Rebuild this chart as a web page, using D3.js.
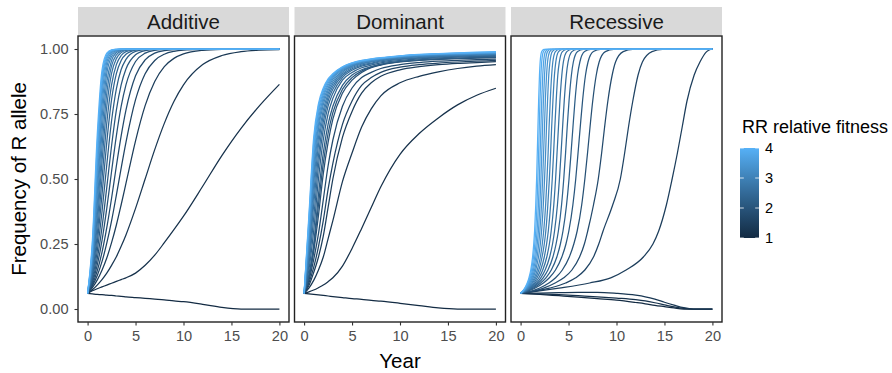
<!DOCTYPE html>
<html>
<head>
<meta charset="utf-8">
<script src="https://cdn.jsdelivr.net/npm/d3@7"></script>
<style>
body { margin: 0; background: #fff; }
svg { display: block; font-family: "Liberation Sans", Arial, sans-serif; }
</style>
</head>
<body>
<svg width="892" height="373"></svg>
<script>
// RR relative fitness of each simulated line (1 to 4)
const fitness = [1, 1.15, 1.3, 1.45, 1.6, 1.75, 1.9, 2.05, 2.2, 2.35, 2.5,
    2.65, 2.8, 2.95, 3.1, 3.25, 3.4, 3.55, 3.7, 3.85, 4];
const panels = ['Additive', 'Dominant', 'Recessive'];
const xTicks = [0, 5, 10, 15, 20];
const yTicks = [0, 0.25, 0.5, 0.75, 1];
const legendTicks = [1, 2, 3, 4];

// Additive: frequency of R at these years, one row per fitness
const addYears = [0, 0.5, 1, 1.5, 2, 2.5, 3, 3.5, 4, 5, 6, 7, 8, 9, 10, 12, 14, 16, 18, 20];
const additive = [
    [.06, .058, .056, .055, .053, .052, .05, .049, .047, .044, .041, .038, .035, .031, .028, .018, .006, 0, 0, 0],
    [.06, .07, .078, .085, .092, .099, .106, .113, .12, .138, .168, .207, .255, .305, .357, .472, .59, .695, .785, .864],
    [.06, .074, .092, .113, .138, .168, .201, .241, .285, .387, .5, .613, .714, .798, .862, .94, .975, .99, .996, .998],
    [.06, .082, .111, .149, .196, .255, .323, .401, .483, .647, .782, .875, .932, .964, .981, .995, .999, 1, 1, 1],
    [.06, .089, .128, .182, .253, .339, .438, .542, .641, .805, .905, .956, .98, .991, .996, .999, 1, 1, 1, 1],
    [.06, .094, .146, .218, .313, .426, .55, .666, .765, .897, .958, .984, .994, .998, .999, 1, 1, 1, 1, 1],
    [.06, .102, .168, .263, .387, .529, .666, .779, .862, .952, .984, .995, .998, 1, 1, 1, 1, 1, 1, 1],
    [.06, .109, .192, .313, .468, .628, .765, .862, .923, .978, .994, .998, 1, 1, 1, 1, 1, 1, 1, 1],
    [.06, .118, .221, .373, .555, .724, .847, .921, .96, .991, .998, 1, 1, 1, 1, 1, 1, 1, 1, 1],
    [.06, .128, .253, .438, .641, .805, .905, .956, .98, .996, 1, 1, 1, 1, 1, 1, 1, 1, 1, 1],
    [.06, .138, .285, .5, .715, .862, .94, .975, .99, .998, 1, 1, 1, 1, 1, 1, 1, 1, 1, 1],
    [.06, .148, .323, .565, .779, .906, .963, .986, .995, .999, 1, 1, 1, 1, 1, 1, 1, 1, 1, 1],
    [.06, .159, .358, .622, .829, .935, .977, .992, .997, 1, 1, 1, 1, 1, 1, 1, 1, 1, 1, 1],
    [.06, .17, .397, .678, .871, .956, .986, .995, .999, 1, 1, 1, 1, 1, 1, 1, 1, 1, 1, 1],
    [.06, .182, .438, .731, .905, .971, .991, .997, .999, 1, 1, 1, 1, 1, 1, 1, 1, 1, 1, 1],
    [.06, .195, .48, .778, .93, .98, .995, .999, 1, 1, 1, 1, 1, 1, 1, 1, 1, 1, 1, 1],
    [.06, .209, .521, .818, .949, .987, .997, .999, 1, 1, 1, 1, 1, 1, 1, 1, 1, 1, 1, 1],
    [.06, .222, .56, .85, .962, .991, .998, 1, 1, 1, 1, 1, 1, 1, 1, 1, 1, 1, 1, 1],
    [.06, .233, .593, .874, .971, .994, .999, 1, 1, 1, 1, 1, 1, 1, 1, 1, 1, 1, 1, 1],
    [.06, .247, .627, .896, .978, .996, .999, 1, 1, 1, 1, 1, 1, 1, 1, 1, 1, 1, 1, 1],
    [.06, .263, .666, .918, .984, .997, .999, 1, 1, 1, 1, 1, 1, 1, 1, 1, 1, 1, 1, 1]
];

// Dominant
const domYears = [0, 0.5, 1, 1.5, 2, 2.5, 3, 4, 5, 6, 7, 8, 10, 12, 14, 16, 18, 20];
const dominant = [
    [.06, .058, .056, .054, .052, .05, .048, .044, .04, .037, .033, .03, .022, .013, .004, 0, 0, 0],
    [.06, .066, .073, .082, .092, .105, .12, .165, .233, .31, .39, .47, .595, .675, .735, .785, .822, .849],
    [.06, .08, .11, .15, .2, .27, .34, .49, .6, .7, .77, .82, .87, .895, .912, .925, .934, .94],
    [.06, .09, .14, .2, .28, .39, .5, .66, .76, .83, .87, .895, .92, .932, .94, .945, .948, .951],
    [.06, .1, .16, .24, .34, .46, .56, .71, .8, .86, .89, .91, .93, .94, .946, .95, .953, .956],
    [.06, .11, .19, .29, .42, .55, .65, .78, .85, .89, .91, .925, .94, .948, .953, .956, .959, .961],
    [.06, .12, .22, .36, .52, .64, .73, .83, .88, .91, .928, .938, .95, .956, .96, .963, .965, .967],
    [.06, .125, .235, .4, .56, .675, .755, .845, .89, .915, .93, .94, .951, .957, .961, .964, .967, .969],
    [.06, .13, .25, .44, .6, .71, .78, .86, .9, .92, .932, .942, .952, .958, .962, .965, .968, .97],
    [.06, .15, .3, .5, .65, .75, .81, .88, .91, .928, .938, .947, .956, .962, .966, .969, .971, .973],
    [.06, .17, .35, .55, .69, .78, .83, .89, .918, .934, .943, .951, .96, .965, .969, .972, .974, .975],
    [.06, .19, .4, .59, .72, .8, .845, .898, .924, .938, .946, .954, .962, .967, .971, .974, .976, .977],
    [.06, .21, .44, .63, .745, .815, .857, .905, .929, .942, .95, .957, .965, .97, .973, .976, .978, .979],
    [.06, .23, .48, .66, .765, .828, .867, .911, .933, .945, .952, .959, .967, .972, .975, .977, .979, .98],
    [.06, .25, .51, .69, .785, .84, .876, .916, .936, .948, .955, .961, .968, .973, .976, .978, .98, .982],
    [.06, .27, .54, .71, .8, .85, .884, .92, .939, .95, .956, .962, .97, .975, .978, .98, .982, .983],
    [.06, .29, .57, .73, .813, .86, .891, .924, .941, .952, .958, .963, .971, .976, .979, .981, .983, .984],
    [.06, .31, .6, .75, .825, .868, .896, .927, .943, .953, .959, .964, .972, .977, .98, .982, .984, .986],
    [.06, .33, .62, .765, .835, .875, .9, .929, .945, .954, .96, .965, .973, .978, .981, .983, .985, .987],
    [.06, .345, .64, .78, .843, .88, .903, .931, .946, .955, .961, .966, .973, .978, .982, .984, .986, .988],
    [.06, .36, .66, .79, .85, .885, .905, .932, .947, .956, .962, .967, .974, .979, .982, .985, .988, .99]
];

// Recessive, the three lowest fitness lines that die out
const recDeclineYears = [0, 2, 4, 6, 8, 10, 12, 13, 14, 15, 16, 17, 18, 20];
const recDecline = [
    [.06, .056, .051, .046, .04, .034, .025, .02, .014, .009, .004, 0, 0, 0],
    [.06, .058, .055, .051, .047, .042, .036, .031, .024, .016, .008, .002, 0, 0],
    [.06, .061, .063, .064, .064, .06, .053, .047, .038, .026, .015, .005, 0, 0]
];
// Recessive, the rising lines: year at which each frequency level is reached
const recLevels = [.06, .08, .1, .12, .15, .2, .25, .3, .4, .5, .6, .7, .8, .9, .95, .99, .999, 1];
const recTimes = [
    [0, 4, 7.2, 9.4, 11, 12.8, 13.8, 14.4, 15.2, 15.8, 16.35, 16.85, 17.35, 18.1, 18.7, 19.4, 19.85, 20],
    [0, 3, 4.7, 5.75, 6.7, 7.6, 8.15, 8.6, 9.6, 10.4, 10.85, 11.25, 11.7, 12.25, 12.7, 13.7, 14.8, 20],
    [0, 2.4, 3.6, 4.5, 5.35, 6.15, 6.65, 7, 7.6, 8.1, 8.45, 8.76, 9.1, 9.55, 9.9, 10.7, 11.7, 20],
    [0, 1.95, 2.95, 3.65, 4.35, 5.08, 5.55, 5.9, 6.37, 6.7, 6.98, 7.24, 7.52, 7.89, 8.19, 8.84, 9.72, 20],
    [0, 1.48, 2.38, 3, 3.64, 4.3, 4.73, 5.03, 5.45, 5.75, 5.99, 6.22, 6.46, 6.77, 7.03, 7.59, 8.34, 20],
    [0, 1.3, 2.09, 2.64, 3.2, 3.78, 4.15, 4.42, 4.79, 5.05, 5.26, 5.46, 5.67, 5.94, 6.18, 6.67, 7.32, 20],
    [0, 1.16, 1.86, 2.35, 2.85, 3.37, 3.7, 3.94, 4.27, 4.5, 4.69, 4.86, 5.05, 5.3, 5.5, 5.94, 6.53, 20],
    [0, 1.04, 1.68, 2.11, 2.56, 3.03, 3.33, 3.54, 3.84, 4.05, 4.22, 4.38, 4.55, 4.77, 4.95, 5.35, 5.87, 20],
    [0, .94, 1.51, 1.91, 2.31, 2.73, 3, 3.19, 3.46, 3.65, 3.8, 3.95, 4.1, 4.3, 4.46, 4.82, 5.29, 20],
    [0, .85, 1.37, 1.72, 2.09, 2.47, 2.71, 2.89, 3.13, 3.3, 3.44, 3.57, 3.71, 3.88, 4.04, 4.36, 4.79, 20],
    [0, .77, 1.24, 1.57, 1.9, 2.24, 2.47, 2.63, 2.84, 3, 3.13, 3.24, 3.37, 3.53, 3.67, 3.96, 4.35, 20],
    [0, .71, 1.14, 1.44, 1.74, 2.06, 2.26, 2.41, 2.61, 2.75, 2.87, 2.97, 3.09, 3.24, 3.36, 3.63, 3.99, 20],
    [0, .64, 1.04, 1.31, 1.58, 1.87, 2.06, 2.19, 2.37, 2.5, 2.61, 2.7, 2.81, 2.94, 3.06, 3.3, 3.63, 20],
    [0, .59, .95, 1.2, 1.46, 1.72, 1.89, 2.01, 2.18, 2.3, 2.4, 2.49, 2.58, 2.71, 2.81, 3.04, 3.34, 20],
    [0, .54, .88, 1.11, 1.34, 1.59, 1.74, 1.86, 2.01, 2.12, 2.21, 2.29, 2.38, 2.5, 2.59, 2.8, 3.07, 20],
    [0, .5, .81, 1.02, 1.24, 1.47, 1.61, 1.72, 1.86, 1.96, 2.04, 2.12, 2.2, 2.31, 2.4, 2.59, 2.84, 20],
    [0, .46, .75, .94, 1.14, 1.35, 1.48, 1.58, 1.71, 1.8, 1.88, 1.95, 2.02, 2.12, 2.2, 2.38, 2.61, 20],
    [0, .43, .69, .87, 1.06, 1.25, 1.37, 1.46, 1.58, 1.67, 1.74, 1.81, 1.88, 1.97, 2.04, 2.2, 2.42, 20]
];

const panelLeft = 78;
const panelW = 211;
const gap = 5.5;
const stripTop = 7;
const panelTop = 36;
const panelBottom = 322;

const svg = d3.select('svg');

const x = d3.scaleLinear().domain([-1, 21]).range([0, panelW]);
const y = d3.scaleLinear().domain([-0.05, 1.05]).range([panelBottom, panelTop]);
const color = d3.scaleLinear()
    .domain([1, 4])
    .range(['#132B43', '#56B1F7'])
    .interpolate(d3.interpolateLab);

const line = d3.line()
    .x(d => x(d[0]))
    .y(d => y(d[1]))
    .curve(d3.curveMonotoneX);

const series = {
    Additive: additive.map((v, i) => ({ w: fitness[i], pts: v.map((p, j) => [addYears[j], p]) })),
    Dominant: dominant.map((v, i) => ({ w: fitness[i], pts: v.map((p, j) => [domYears[j], p]) })),
    Recessive: recDecline.map((v, i) => ({ w: fitness[i], pts: v.map((p, j) => [recDeclineYears[j], p]) }))
        .concat(recTimes.map((t, i) => ({ w: fitness[i + 3], pts: t.map((yr, j) => [yr, recLevels[j]]) })))
};

const styleAxis = g => {
    g.select('.domain').remove();
    g.selectAll('line').attr('stroke', '#333333').attr('stroke-width', 1.1);
    g.selectAll('text')
        .attr('fill', '#4D4D4D')
        .style('font-size', '14.6px')
        .style('font-family', '"Liberation Sans", Arial, sans-serif');
};

panels.forEach((name, k) => {
    const g = svg.append('g')
        .attr('transform', `translate(${panelLeft + k * (panelW + gap)},0)`);

    g.append('rect')
        .attr('x', 0)
        .attr('y', stripTop)
        .attr('width', panelW)
        .attr('height', panelTop - stripTop - 0.5)
        .attr('fill', '#D9D9D9');

    g.append('text')
        .attr('x', panelW / 2)
        .attr('y', 29)
        .attr('text-anchor', 'middle')
        .style('font-size', '20.5px')
        .attr('fill', '#1A1A1A')
        .text(name);

    g.append('g')
        .selectAll('path')
        .data(series[name])
        .join('path')
        .attr('fill', 'none')
        .attr('stroke', d => color(d.w))
        .attr('stroke-width', 1.25)
        .attr('d', d => line(d.pts));

    g.append('rect')
        .attr('x', 0)
        .attr('y', panelTop)
        .attr('width', panelW)
        .attr('height', panelBottom - panelTop)
        .attr('fill', 'none')
        .attr('stroke', '#222222')
        .attr('stroke-width', 1.4);

    g.append('g')
        .attr('transform', `translate(0,${panelBottom})`)
        .call(d3.axisBottom(x).tickValues(xTicks).tickSize(3.5).tickPadding(5.5))
        .call(styleAxis);

    if (k === 0) {
        g.append('g')
            .call(d3.axisLeft(y).tickValues(yTicks).tickFormat(d3.format('.2f')).tickSize(3.5).tickPadding(6))
            .call(styleAxis);
    }
});

// axis titles
svg.append('text')
    .attr('transform', `translate(25.5,${(panelTop + panelBottom) / 2}) rotate(-90)`)
    .attr('text-anchor', 'middle')
    .style('font-size', '20.5px')
    .text('Frequency of R allele');

svg.append('text')
    .attr('x', panelLeft + (3 * panelW + 2 * gap) / 2)
    .attr('y', 368)
    .attr('text-anchor', 'middle')
    .style('font-size', '20.5px')
    .text('Year');

// colour bar legend
const legendX = 740;
const barW = 19;
const ly = d3.scaleLinear().domain([1, 4]).range([238, 148]);

const grad = svg.append('defs').append('linearGradient')
    .attr('id', 'fitGrad')
    .attr('x1', 0).attr('y1', 1).attr('x2', 0).attr('y2', 0);
grad.selectAll('stop')
    .data(d3.range(0, 1.01, 0.1))
    .join('stop')
    .attr('offset', d => d)
    .attr('stop-color', d => color(1 + 3 * d));

svg.append('text')
    .attr('x', 742)
    .attr('y', 133)
    .style('font-size', '18px')
    .text('RR relative fitness');

svg.append('rect')
    .attr('x', legendX)
    .attr('y', ly(4))
    .attr('width', barW)
    .attr('height', ly(1) - ly(4))
    .attr('fill', 'url(#fitGrad)');

const lt = svg.append('g');
lt.selectAll('line.l')
    .data(legendTicks)
    .join('line')
    .attr('x1', legendX).attr('x2', legendX + barW / 5)
    .attr('y1', d => ly(d)).attr('y2', d => ly(d))
    .attr('stroke', '#fff').attr('stroke-width', 0.8);
lt.selectAll('line.r')
    .data(legendTicks)
    .join('line')
    .attr('x1', legendX + barW - barW / 5).attr('x2', legendX + barW)
    .attr('y1', d => ly(d)).attr('y2', d => ly(d))
    .attr('stroke', '#fff').attr('stroke-width', 0.8);

lt.selectAll('text')
    .data(legendTicks)
    .join('text')
    .attr('x', 765)
    .attr('y', d => ly(d))
    .attr('dy', '0.36em')
    .style('font-size', '14.6px')
    .text(d => d);
</script>
</body>
</html>
